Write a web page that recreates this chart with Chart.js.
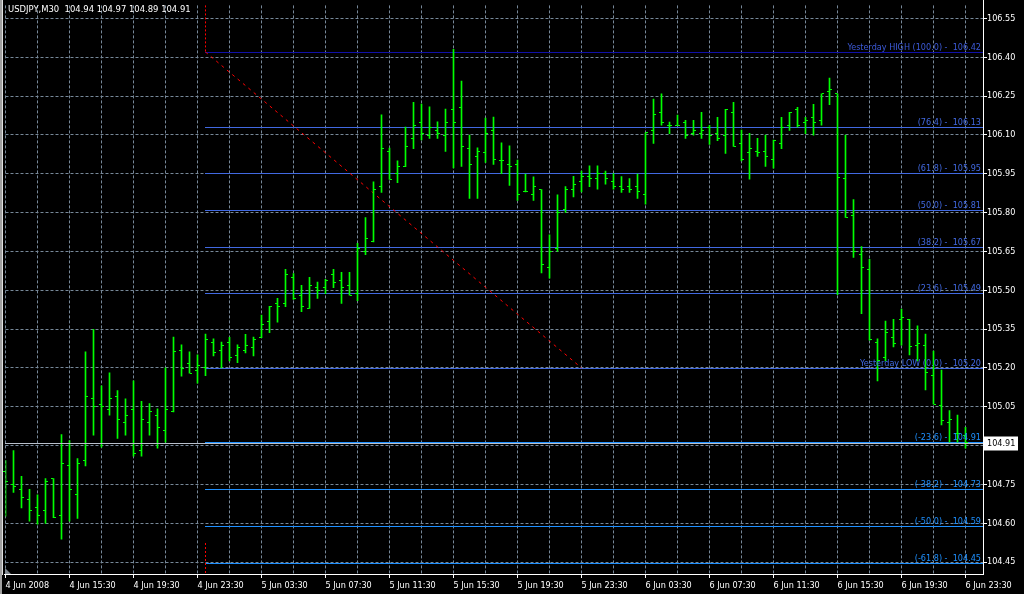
<!DOCTYPE html>
<html>
<head>
<meta charset="utf-8">
<script src="https://cdn.jsdelivr.net/npm/chart.js@4.4.1/dist/chart.umd.min.js"></script>
<style>
  html, body { margin: 0; padding: 0; background: #000; overflow: hidden; }
  canvas { display: block; }
</style>
</head>
<body>
<canvas id="chart" width="1024" height="594"></canvas>
<script>
// USDJPY M30, 4 Jun 11:30 .. 6 Jun 23:30 (one bar every 30 min)
const opens = [
  104.80, 104.75, 104.73, 104.691, 104.66, 104.649, 104.772, 104.63, 104.822, 104.71,
  104.841, 105.08, 105.06, 105.041, 105.091, 104.991, 105.041, 104.88, 104.991, 105.018,
  104.96, 105.03, 105.268, 105.218, 105.191, 105.20, 105.299, 105.268, 105.299, 105.249,
  105.268, 105.28, 105.318, 105.38, 105.449, 105.449, 105.549, 105.479, 105.43, 105.51,
  105.51, 105.56, 105.537, 105.518, 105.487, 105.65, 105.687, 105.899, 106.037, 105.949,
  105.977, 106.087, 106.149, 106.099, 106.118, 106.099, 106.199, 106.206, 106.049, 106.018,
  106.03, 106.118, 106.00, 105.987, 105.987, 105.88, 105.868, 105.889, 105.587, 105.661,
  105.81, 105.89, 105.92, 105.94, 105.93, 105.95, 105.92, 105.90, 105.90, 105.90,
  105.868, 106.118, 106.187, 106.137, 106.137, 106.149, 106.106, 106.106, 106.13, 106.106,
  106.099, 106.187, 106.068, 106.03, 106.037, 106.037, 106.006, 106.068, 106.137, 106.199,
  106.149, 106.168, 106.156, 106.268, 106.258, 105.93, 105.788, 105.638, 105.581, 105.30,
  105.24, 105.319, 105.385, 105.385, 105.288, 105.288, 105.169, 105.054, 104.99, 104.948,
  104.94
];
const highs = [
  104.842, 104.881, 104.781, 104.731, 104.71, 104.773, 104.773, 104.942, 104.919, 104.85,
  105.262, 105.349, 105.131, 105.181, 105.112, 105.081, 105.15, 105.071, 105.062, 105.042,
  105.20, 105.319, 105.289, 105.262, 105.25, 105.331, 105.312, 105.30, 105.318, 105.289,
  105.33, 105.319, 105.404, 105.438, 105.469, 105.581, 105.564, 105.519, 105.55, 105.531,
  105.542, 105.581, 105.569, 105.569, 105.681, 105.781, 105.919, 106.177, 106.049, 106.00,
  106.13, 106.226, 106.219, 106.208, 106.15, 106.20, 106.43, 106.308, 106.099, 106.05,
  106.165, 106.169, 106.069, 106.058, 106.003, 105.949, 105.938, 105.889, 105.714, 105.868,
  105.90, 105.94, 105.96, 105.98, 105.98, 105.96, 105.95, 105.939, 105.931, 105.949,
  106.108, 106.238, 106.258, 106.149, 106.176, 106.156, 106.156, 106.187, 106.137, 106.168,
  106.199, 106.226, 106.118, 106.106, 106.087, 106.099, 106.08, 106.168, 106.187, 106.206,
  106.168, 106.218, 106.258, 106.319, 106.258, 106.099, 105.85, 105.669, 105.619, 105.312,
  105.381, 105.388, 105.427, 105.388, 105.362, 105.331, 105.265, 105.192, 105.035, 105.018,
  104.97
];
const lows = [
  104.627, 104.719, 104.659, 104.608, 104.596, 104.599, 104.622, 104.539, 104.608, 104.619,
  104.821, 104.94, 104.894, 105.017, 104.928, 104.94, 104.859, 104.859, 104.94, 104.89,
  104.913, 105.03, 105.168, 105.18, 105.141, 105.17, 105.246, 105.20, 105.227, 105.22,
  105.258, 105.246, 105.317, 105.336, 105.377, 105.436, 105.464, 105.417, 105.43, 105.468,
  105.487, 105.51, 105.449, 105.481, 105.46, 105.637, 105.687, 105.878, 105.928, 105.915,
  105.977, 106.047, 106.08, 106.086, 106.086, 106.036, 105.972, 105.978, 105.855, 105.855,
  105.994, 105.986, 105.95, 105.905, 105.847, 105.88, 105.847, 105.567, 105.547, 105.65,
  105.80, 105.86, 105.88, 105.90, 105.89, 105.91, 105.89, 105.878, 105.878, 105.855,
  105.832, 106.067, 106.137, 106.105, 106.137, 106.086, 106.099, 106.086, 106.063, 106.078,
  106.028, 106.055, 105.999, 105.929, 106.017, 105.978, 105.971, 106.047, 106.117, 106.13,
  106.105, 106.099, 106.137, 106.217, 105.483, 105.781, 105.627, 105.409, 105.307, 105.15,
  105.227, 105.281, 105.288, 105.25, 105.227, 105.115, 105.06, 104.98, 104.913, 104.913,
  104.89
];
const closes = [
  104.76, 104.742, 104.699, 104.649, 104.63, 104.76, 104.622, 104.83, 104.73, 104.83,
  105.091, 105.049, 105.049, 105.08, 104.999, 105.018, 104.868, 104.999, 105.03, 104.968,
  105.041, 105.262, 105.199, 105.18, 105.21, 105.31, 105.26, 105.287, 105.241, 105.278,
  105.287, 105.31, 105.368, 105.437, 105.437, 105.56, 105.468, 105.437, 105.518, 105.499,
  105.537, 105.53, 105.51, 105.481, 105.662, 105.699, 105.889, 106.049, 105.929, 105.979,
  106.056, 106.137, 106.106, 106.13, 106.106, 106.149, 106.149, 106.056, 105.987, 106.037,
  106.106, 106.006, 106.00, 105.979, 105.868, 105.88, 105.899, 105.599, 105.649, 105.80,
  105.89, 105.91, 105.94, 105.93, 105.95, 105.93, 105.90, 105.889, 105.889, 105.88,
  106.108, 106.177, 106.149, 106.137, 106.137, 106.099, 106.118, 106.118, 106.099, 106.087,
  106.199, 106.055, 106.006, 106.049, 106.03, 106.018, 106.08, 106.13, 106.187, 106.137,
  106.156, 106.149, 106.258, 106.276, 105.937, 105.781, 105.65, 105.588, 105.31, 105.23,
  105.338, 105.296, 105.396, 105.281, 105.296, 105.181, 105.06, 104.996, 105.00, 104.948,
  104.91
];

const xTickLabels = [
  "4 Jun 2008", "4 Jun 15:30", "4 Jun 19:30", "4 Jun 23:30",
  "5 Jun 03:30", "5 Jun 07:30", "5 Jun 11:30", "5 Jun 15:30",
  "5 Jun 19:30", "5 Jun 23:30", "6 Jun 03:30", "6 Jun 07:30",
  "6 Jun 11:30", "6 Jun 15:30", "6 Jun 19:30", "6 Jun 23:30"
];
const yTickValues = [
  104.45, 104.60, 104.75, 104.90, 105.05, 105.20, 105.35, 105.50,
  105.65, 105.80, 105.95, 106.10, 106.25, 106.40, 106.55
];
const yTickLabels = yTickValues.map(v => v.toFixed(2));

// fibonacci from yesterday high (bar 25) to yesterday low (bar 72)
const fibStartBar = 25;
const fibEndBar = 72;
const yesterdayHigh = 106.42;
const yesterdayLow = 105.20;
const fibLevels = [
  106.42, 106.132, 105.954, 105.81, 105.666, 105.488,
  105.20, 104.912, 104.734, 104.59, 104.446
];
const fibTexts = [
  "Yesterday HIGH (100.0) -  106.42",
  "(76.4) -  106.13",
  "(61.8) -  105.95",
  "(50.0) -  105.81",
  "(38.2) -  105.67",
  "(23.6) -  105.49",
  "Yesterday LOW (0.0) -  105.20",
  "(-23.6) -  104.91",
  "(-38.2) -  104.73",
  "(-50.0) -  104.59",
  "(-61.8) -  104.45"
];
const lastPrice = 104.91;
const titleText = "USDJPY,M30  104.94 104.97 104.89 104.91";

const FAMILY = "'DejaVu Sans Condensed', 'Liberation Sans', Arial, sans-serif";
const FONT = "9px " + FAMILY;
const GRID = "#778899";
const BAR = "#00ff00";
const fibLineColors = [
  "#1010a8", "#4169e1", "#4169e1", "#4169e1", "#4169e1", "#4169e1",
  "#4169e1", "#1e90ff", "#1e90ff", "#1e90ff", "#1e90ff"
];
const fibTextColors = [
  "#3c5ad8", "#4169e1", "#4169e1", "#4169e1", "#4169e1", "#4169e1",
  "#4169e1", "#1e90ff", "#1e90ff", "#1e90ff", "#1e90ff"
];

const mt4Plugin = {
  id: "mt4",

  beforeDraw(chart) {
    const ctx = chart.ctx;
    ctx.save();
    ctx.fillStyle = "#000";
    ctx.fillRect(0, 0, chart.width, chart.height);
    ctx.restore();
  },

  beforeDatasetsDraw(chart) {
    const { ctx, chartArea: area, scales: { x, y } } = chart;
    const left = Math.round(x.getPixelForValue(fibStartBar) - 0.5);

    ctx.save();
    ctx.lineWidth = 1;

    fibLevels.forEach((v, k) => {
      const py = Math.round(y.getPixelForValue(v)) + 0.5;
      ctx.strokeStyle = fibLineColors[k];
      ctx.beginPath();
      ctx.moveTo(left, py);
      ctx.lineTo(area.right, py);
      ctx.stroke();
    });

    // red dotted marker above the high and below the lowest level
    const topY = Math.round(y.getPixelForValue(yesterdayHigh));
    const lowY = Math.round(y.getPixelForValue(fibLevels[fibLevels.length - 1]));
    ctx.strokeStyle = "#ff0000";
    ctx.setLineDash([2, 2]);
    ctx.beginPath();
    ctx.moveTo(left + 0.5, area.top);
    ctx.lineTo(left + 0.5, topY);
    ctx.moveTo(left + 0.5, lowY - 20);
    ctx.lineTo(left + 0.5, area.bottom);
    ctx.stroke();

    ctx.restore();
  },

  afterDatasetsDraw(chart) {
    const { ctx, chartArea: area, scales: { x, y } } = chart;

    ctx.save();

    // open / close ticks
    ctx.fillStyle = BAR;
    opens.forEach((o, i) => {
      const col = Math.round(x.getPixelForValue(i) - 0.5);
      const oy = Math.round(y.getPixelForValue(o) - 0.5);
      const cy = Math.round(y.getPixelForValue(closes[i]) - 0.5);
      ctx.fillRect(col - 2, oy, 2, 1);
      ctx.fillRect(col + 1, cy, 2, 1);
    });

    // bid line
    const by = Math.round(y.getPixelForValue(lastPrice)) + 0.5;
    ctx.strokeStyle = "#b8c0cc";
    ctx.lineWidth = 1;
    ctx.beginPath();
    ctx.moveTo(area.left - 0.5, by);
    ctx.lineTo(area.right, by);
    ctx.stroke();

    // fib texts
    ctx.font = FONT;
    ctx.textAlign = "right";
    ctx.textBaseline = "alphabetic";
    fibLevels.forEach((v, k) => {
      const py = Math.round(y.getPixelForValue(v));
      ctx.fillStyle = fibTextColors[k];
      ctx.fillText(fibTexts[k], 981, py - 2);
    });

    // frame
    ctx.fillStyle = "#ffffff";
    ctx.fillRect(Math.round(area.right), 0, 1, Math.round(area.bottom) + 1);
    ctx.fillRect(4, Math.round(area.bottom), Math.round(area.right) - 4, 1);
    ctx.fillStyle = "#a0a0a0";
    ctx.fillRect(0, 0, 2, chart.height);
    ctx.fillStyle = "#e0e0e0";
    ctx.fillRect(2, 0, 1, Math.round(area.bottom) + 1);

    // shift marker
    ctx.fillStyle = "#808890";
    ctx.beginPath();
    ctx.moveTo(5, area.bottom - 6);
    ctx.lineTo(5, area.bottom);
    ctx.lineTo(11, area.bottom);
    ctx.closePath();
    ctx.fill();

    // title
    ctx.font = "9.4px " + FAMILY;
    ctx.textAlign = "left";
    ctx.textBaseline = "middle";
    ctx.fillStyle = "#ffffff";
    ctx.fillText(titleText, 8, 10);

    // last price box
    ctx.font = FONT;
    ctx.fillStyle = "#ffffff";
    ctx.fillRect(984, by - 7, 34, 14);
    ctx.fillStyle = "#000000";
    ctx.fillText(lastPrice.toFixed(2), 987, by);

    ctx.restore();
  }
};

const rangeData = highs.map((h, i) => ({ x: i, y: [lows[i], h] }));

new Chart(document.getElementById("chart"), {
  type: "bar",
  data: {
    datasets: [
      {
        type: "bar",
        data: rangeData,
        backgroundColor: BAR,
        borderWidth: 0,
        barThickness: 1,
        grouped: false,
        order: 0
      },
      {
        type: "line",
        data: [
          { x: fibStartBar, y: yesterdayHigh },
          { x: fibEndBar, y: yesterdayLow }
        ],
        borderColor: "#ff0000",
        borderWidth: 1,
        borderDash: [3, 4],
        pointRadius: 0,
        order: 1
      }
    ]
  },
  options: {
    responsive: false,
    animation: false,
    devicePixelRatio: 1,
    events: [],
    layout: {
      padding: { left: 5.5, top: 3, right: 0, bottom: 0 }
    },
    plugins: {
      legend: { display: false },
      tooltip: { enabled: false }
    },
    scales: {
      x: {
        type: "linear",
        min: 0,
        max: 122.1875,
        offset: false,
        afterFit(scale) { scale.height = 20; },
        afterBuildTicks(scale) {
          const ticks = [];
          for (let v = 0; v < opens.length; v += 4) ticks.push({ value: v });
          scale.ticks = ticks;
        },
        border: { display: false, dash: [3, 2] },
        grid: {
          color: GRID,
          offset: false,
          tickLength: 4,
          tickBorderDash: [],
          tickColor: ctx => (ctx.tick && ctx.tick.value % 8 === 0 ? "#ffffff" : "rgba(0,0,0,0)")
        },
        ticks: {
          color: "#ffffff",
          font: { family: FAMILY, size: 9 },
          autoSkip: false,
          maxRotation: 0,
          align: "start",
          padding: 2,
          callback: value => (value % 8 === 0 ? xTickLabels[value / 8] : "")
        }
      },
      y: {
        position: "right",
        min: 104.404,
        max: 106.60,
        afterFit(scale) { scale.width = 41; },
        afterBuildTicks(scale) {
          scale.ticks = yTickValues.map(v => ({ value: v }));
        },
        border: { display: false, dash: [3, 2] },
        grid: {
          color: GRID,
          tickLength: 4,
          tickBorderDash: [],
          tickColor: "#ffffff"
        },
        ticks: {
          color: "#ffffff",
          font: { family: FAMILY, size: 9 },
          padding: 0,
          callback: (value, index) => yTickLabels[index]
        }
      }
    }
  },
  plugins: [mt4Plugin]
});
</script>
</body>
</html>
